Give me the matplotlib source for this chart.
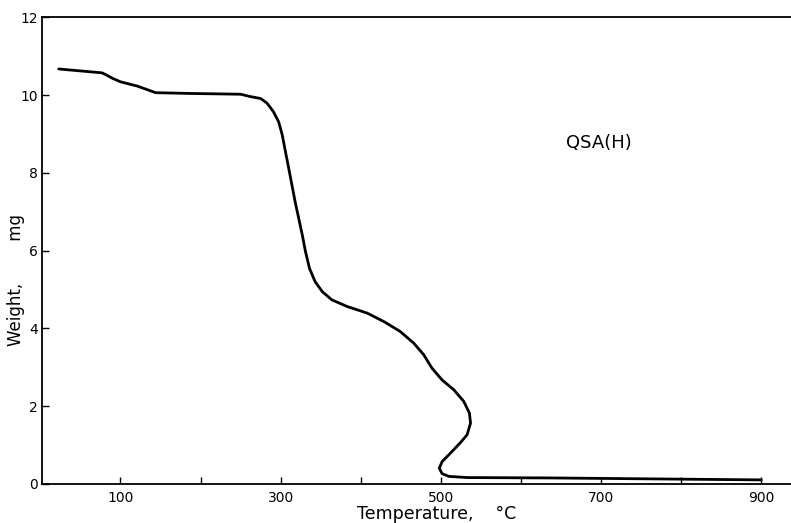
import matplotlib.pyplot as plt

# TGA curve of QSA(H)
temp = [23, 77, 83, 90, 100, 121, 144, 187, 250, 262, 275, 283, 291, 297.5,
        302, 306, 310, 314, 318, 322.5, 327, 331, 336, 343, 352, 364, 383,
        408, 429, 449, 466, 478.5, 489, 501.5, 516, 528.5, 535.6, 537, 532.7,
        524, 512, 501.5, 498, 501.5, 510, 533, 637, 900]
weight = [10.67, 10.57, 10.51, 10.43, 10.34, 10.23, 10.06, 10.04, 10.02, 9.96,
          9.91, 9.79, 9.57, 9.31, 8.97, 8.54, 8.12, 7.69, 7.26, 6.83, 6.40,
          5.97, 5.54, 5.20, 4.94, 4.73, 4.56, 4.39, 4.17, 3.92, 3.62, 3.32,
          2.97, 2.67, 2.42, 2.12, 1.82, 1.56, 1.26, 1.05, 0.79, 0.57, 0.40,
          0.26, 0.19, 0.16, 0.15, 0.10]

xticks = [100, 200, 300, 400, 500, 600, 700, 800, 900]
xticklabels = ["100", "", "300", "", "500", "", "700", "", "900"]
yticks = [0, 2, 4, 6, 8, 10, 12]

fig = plt.figure(figsize=(7.91, 5.23), dpi=100)
ax = fig.add_axes([0.053, 0.075, 0.947, 0.892])

ax.plot(temp, weight, color="black", linewidth=2.0,
        solid_capstyle="round", solid_joinstyle="round")

ax.set_xlim(2, 937)
ax.set_ylim(0, 12)
ax.set_xticks(xticks)
ax.set_xticklabels(xticklabels)
ax.set_yticks(yticks)
ax.tick_params(axis="both", direction="in", length=5, width=1, labelsize=10)
ax.tick_params(axis="x", pad=5)
ax.tick_params(axis="y", pad=3)

for side in ["left", "bottom", "top"]:
    ax.spines[side].set_linewidth(1.3)
ax.spines["right"].set_visible(False)

ax.set_xlabel("Temperature,    °C", fontsize=12.5)
ax.xaxis.set_label_coords(0.527, -0.045)
ax.xaxis.label.set_verticalalignment("top")
ax.set_ylabel("Weight,        mg", fontsize=12)
ax.yaxis.set_label_coords(-0.023, 0.437)

ax.text(697, 8.77, "QSA(H)", fontsize=13, ha="center", va="center")

fig.savefig("out.png", dpi=100)
